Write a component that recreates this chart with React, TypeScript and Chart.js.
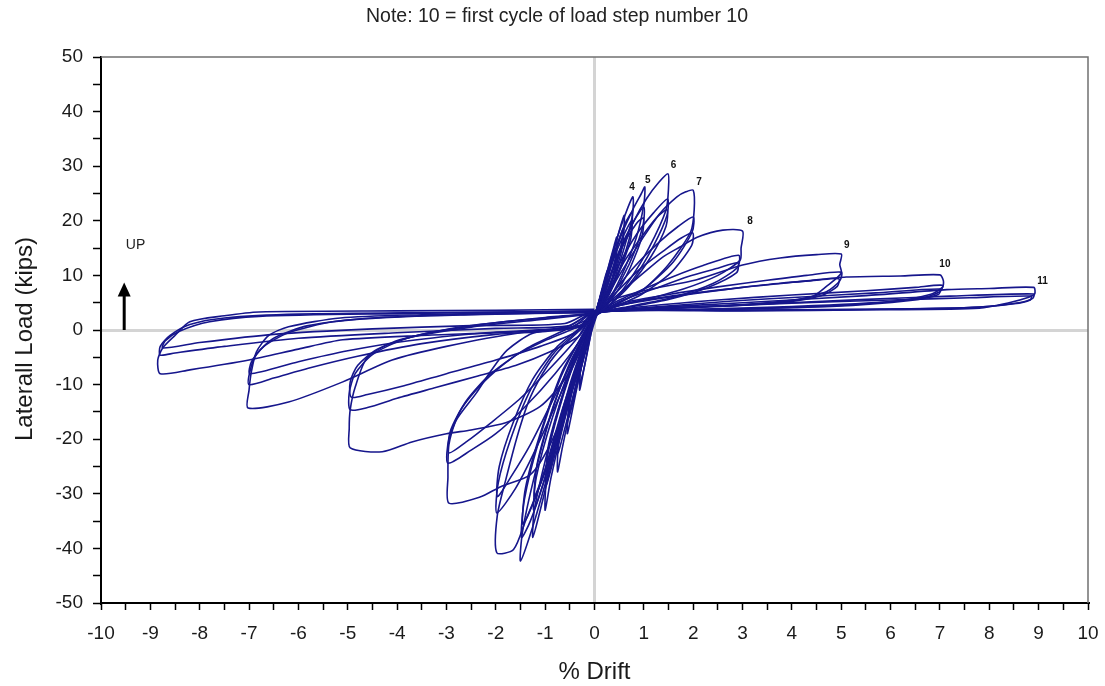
import React, { useEffect, useRef } from 'react';
import { Chart, registerables } from 'chart.js';
Chart.register(...registerables);

type Pt = [number, number];

// ---- Hysteresis cycles: [drift %, lateral load kips] ----
const step1Cycle1: Pt[] = [[0,2],[0.08,5],[0.18,8.5],[0.26,11],[0.25,8.5],[0.15,5],[0.04,2.5],[-0.08,-1],[-0.18,-5.5],[-0.3,-11],[-0.29,-8],[-0.18,-3],[-0.05,1.5],[0,2.5]];
const step1Cycle2: Pt[] = [[0,2.5],[0.1,5.5],[0.25,10],[0.24,8],[0.12,4.5],[0,2.5],[-0.1,-2],[-0.2,-6.5],[-0.3,-10],[-0.28,-7],[-0.12,-1.5],[0,2.5]];
const step2Cycle1: Pt[] = [[0,2.5],[0.1,5.5],[0.25,10.5],[0.4,15.5],[0.45,17],[0.44,14],[0.3,9],[0.12,4.5],[0,2.5],[-0.1,-1],[-0.25,-6],[-0.4,-12.5],[-0.55,-19],[-0.53,-15],[-0.38,-8],[-0.18,-2],[0,2.5]];
const step2Cycle2: Pt[] = [[0,2.5],[0.12,6],[0.3,11.5],[0.44,15],[0.43,12],[0.25,7],[0,3],[-0.15,-2.5],[-0.35,-10],[-0.52,-16],[-0.5,-12],[-0.3,-5],[0,2.5]];
const step3Cycle1: Pt[] = [[0,2.5],[0.1,5],[0.3,11.5],[0.48,17.5],[0.6,21],[0.59,18],[0.45,12],[0.25,6.5],[0.05,3],[-0.1,-0.5],[-0.3,-7],[-0.5,-15],[-0.65,-21.5],[-0.75,-26],[-0.73,-21],[-0.55,-13],[-0.3,-5],[-0.08,0.5],[0,2.5]];
const step3Cycle2: Pt[] = [[0,2.5],[0.15,6.5],[0.35,12.5],[0.58,18.5],[0.57,15.5],[0.4,10],[0.15,4.5],[0,2.5],[-0.15,-3],[-0.4,-11],[-0.6,-18],[-0.74,-22.5],[-0.7,-17.5],[-0.45,-9],[-0.15,-1],[0,2.5]];
const step4Cycle1: Pt[] = [[0,2.5],[0.1,5.5],[0.3,12],[0.5,18],[0.68,22.5],[0.78,24.4],[0.77,21],[0.6,15],[0.35,8],[0.1,4],[0,2.5],[-0.1,-0.5],[-0.35,-8],[-0.65,-18],[-0.88,-27],[-1.0,-33],[-0.98,-28],[-0.8,-20],[-0.5,-10],[-0.2,-2],[0,2.5]];
const step4Cycle2: Pt[] = [[0,2.5],[0.15,6.5],[0.4,14],[0.62,19.5],[0.76,21.5],[0.74,18],[0.5,11],[0.2,5],[0,2.5],[-0.15,-2],[-0.45,-11],[-0.75,-21],[-0.98,-28.5],[-0.95,-23],[-0.7,-14],[-0.35,-4.5],[0,2.5]];
const step4Cycle3: Pt[] = [[0,2.5],[0.18,7],[0.45,14.5],[0.75,20],[0.73,16.5],[0.45,9.5],[0.15,4],[0,2.5],[-0.2,-3.5],[-0.5,-12],[-0.8,-21.5],[-0.97,-26],[-0.93,-21],[-0.65,-12],[-0.3,-3],[0,2.5]];
const step5Cycle1: Pt[] = [[0,2.5],[0.1,5],[0.3,11],[0.55,17.5],[0.8,22.5],[0.95,25],[1.02,26.2],[1.0,23],[0.85,17],[0.55,10],[0.25,5],[0,2.5],[-0.1,-0.5],[-0.4,-9],[-0.8,-22],[-1.1,-33],[-1.25,-38],[-1.22,-33],[-1.0,-24],[-0.65,-12],[-0.3,-3],[0,2.5]];
const step5Cycle2: Pt[] = [[0,2.5],[0.2,7],[0.5,14.5],[0.8,20],[1.0,22.5],[0.98,19],[0.7,12],[0.3,5.5],[0,2.5],[-0.15,-2],[-0.55,-13],[-0.95,-25.5],[-1.23,-33],[-1.18,-27],[-0.85,-16],[-0.4,-5],[0,2.5]];
const step5Cycle3: Pt[] = [[0,2.5],[0.25,8],[0.55,15],[0.85,19.5],[0.99,20.5],[0.96,17],[0.65,10],[0.25,4.5],[0,2.5],[-0.2,-3],[-0.6,-14],[-1.0,-25.5],[-1.22,-30.5],[-1.15,-24],[-0.8,-13],[-0.35,-3.5],[0,2.5]];
const step6Cycle1: Pt[] = [[0,2.5],[0.1,4.5],[0.3,9.5],[0.55,15],[0.8,20],[1.05,24],[1.3,27],[1.49,28.6],[1.5,26],[1.45,22],[1.1,15],[0.7,9],[0.35,5],[0,2.5],[-0.1,-0.5],[-0.45,-10],[-0.9,-25],[-1.25,-36],[-1.5,-42.3],[-1.46,-37],[-1.25,-28],[-0.9,-16],[-0.5,-6],[-0.15,0],[0,2.5]];
const step6Cycle2: Pt[] = [[0,2.5],[0.2,6],[0.5,12],[0.85,17.5],[1.2,21.5],[1.48,24],[1.47,21],[1.2,15.5],[0.8,9.5],[0.35,5],[0,2.5],[-0.15,-2],[-0.6,-14],[-1.0,-27],[-1.3,-35],[-1.48,-38],[-1.42,-31],[-1.15,-21],[-0.7,-9],[-0.25,-1],[0,2.5]];
const step6Cycle3: Pt[] = [[0,2.5],[0.25,6.5],[0.6,12.5],[0.95,17],[1.25,20.5],[1.47,22],[1.45,19],[1.15,13.5],[0.7,8],[0.3,4.5],[0,2.5],[-0.2,-2.5],[-0.65,-14.5],[-1.05,-27],[-1.35,-34],[-1.46,-35.5],[-1.4,-29],[-1.1,-19],[-0.65,-7.5],[-0.2,-0.5],[0,2.5]];
const step7Cycle1: Pt[] = [[0,2.5],[0.15,4.5],[0.5,10],[0.99,17],[1.33,21.4],[1.67,24.4],[1.85,25.3],[2.0,25.6],[2.02,22],[1.95,18],[1.5,12],[1.0,7.5],[0.4,4.5],[0,2.5],[-0.2,-4],[-0.6,-15],[-1.0,-26],[-1.4,-35],[-1.64,-40.2],[-1.98,-40.8],[-1.97,-34],[-1.8,-27.5],[-1.55,-19],[-1.3,-12.3],[-0.95,-6.5],[-0.64,-3],[-0.23,0.5],[0,2.5]];
const step7Cycle2: Pt[] = [[0,2.5],[0.3,6],[0.8,11.5],[1.3,16],[1.7,19],[2.0,20.7],[1.98,18],[1.6,12.5],[1.0,7.5],[0.4,4.5],[0,2.5],[-0.25,-3],[-0.7,-12],[-1.2,-22],[-1.6,-29],[-1.98,-33.5],[-1.95,-28],[-1.7,-20],[-1.3,-11],[-0.8,-4],[-0.25,0.5],[0,2.5]];
const step7Cycle3: Pt[] = [[0,2.5],[0.35,6],[0.9,11],[1.4,14.5],[1.75,16.8],[1.99,17.8],[1.97,15.5],[1.55,10.5],[0.95,6.5],[0.35,4],[0,2.5],[-0.3,-3],[-0.8,-12],[-1.3,-21],[-1.7,-27],[-1.97,-30.5],[-1.93,-25],[-1.65,-17],[-1.25,-9],[-0.75,-3],[-0.2,1],[0,2.5]];
const step8Cycle1: Pt[] = [[0,2.5],[0.15,4],[0.58,7.3],[1.0,10.5],[1.39,13.4],[1.73,15.2],[2.08,17],[2.6,18.3],[3.0,18.1],[2.97,15],[2.95,12.8],[2.5,10],[1.8,7.5],[1.0,5.5],[0.4,4.2],[0,2.8],[-0.15,-2],[-0.5,-12],[-0.9,-21],[-1.3,-26.5],[-1.9,-28.7],[-2.32,-30.6],[-2.95,-31.7],[-2.97,-27],[-2.95,-21],[-2.8,-16.5],[-2.4,-11.6],[-2.1,-7.5],[-1.77,-3.7],[-1.25,-0.6],[-0.3,0.8],[0,2.5]];
const step8Cycle2: Pt[] = [[0,2.5],[0.4,5],[1.0,7.5],[1.6,9.8],[2.2,11.8],[2.92,13.7],[2.9,11.5],[2.4,8.5],[1.6,6],[0.7,4.3],[0,2.8],[-0.3,-2],[-0.8,-8],[-1.4,-14],[-2.0,-19],[-2.5,-22],[-2.97,-24.4],[-2.95,-20],[-2.7,-14.5],[-2.3,-10],[-1.65,-5],[-0.97,-1.8],[-0.15,1.3],[0,2.5]];
const step8Cycle3: Pt[] = [[0,2.5],[0.5,5.2],[1.2,7.5],[1.9,9.8],[2.5,11.3],[2.9,12.3],[2.88,10.5],[2.3,7.8],[1.5,5.6],[0.6,4],[0,2.8],[-0.35,-1.5],[-0.9,-7],[-1.5,-12.5],[-2.1,-17],[-2.6,-20.5],[-2.95,-22.5],[-2.92,-18.5],[-2.6,-13],[-2.1,-8],[-1.4,-3.5],[-0.6,0],[0,2.5]];
const step9Cycle1: Pt[] = [[0,2.8],[0.37,5.5],[1.0,7.2],[2.07,9.2],[3.0,11.9],[3.76,13.2],[4.5,13.8],[5.0,13.9],[4.97,12],[5.0,10.4],[4.7,8],[4.4,6.1],[3.5,5.0],[2.0,4.2],[0.5,3.8],[0,3],[-0.2,-2],[-0.6,-9],[-1.1,-14],[-1.8,-17],[-2.5,-18.3],[-3.0,-19],[-3.7,-20.5],[-4.3,-22.3],[-4.95,-21.6],[-4.97,-18],[-4.95,-14.6],[-4.85,-10.5],[-4.6,-5],[-3.95,-1.8],[-2.45,0.6],[-1.0,2],[0,3]];
const step9Cycle2: Pt[] = [[0,3],[0.6,5],[1.5,6.5],[2.5,7.9],[3.5,9.1],[4.3,10],[5.0,10.6],[4.97,9],[4.7,7],[4.1,5.5],[3,4.6],[1.5,4],[0,3],[-0.3,-1],[-0.9,-4],[-1.6,-6.5],[-2.4,-8.5],[-3.2,-10.5],[-4.0,-12.5],[-4.6,-14.2],[-4.95,-14.6],[-4.97,-11.5],[-4.85,-8],[-4.5,-4.5],[-3.8,-1.5],[-2.5,0.8],[-1,2.2],[0,3]];
const step9Cycle3: Pt[] = [[0,3],[0.7,5],[1.7,6.4],[2.8,7.6],[3.8,8.6],[4.5,9.1],[4.95,9.4],[4.92,8],[4.6,6.3],[3.9,5.1],[2.7,4.4],[1.2,3.8],[0,3],[-0.4,-0.5],[-1.1,-3],[-2.0,-5.5],[-3.0,-8],[-3.9,-10.3],[-4.6,-11.8],[-4.93,-12.3],[-4.95,-9.5],[-4.8,-6.5],[-4.4,-3.5],[-3.6,-1],[-2.3,1],[-1,2.3],[0,3]];
const step10Cycle1: Pt[] = [[0,3],[0.5,4.5],[1.5,6],[3.0,7.8],[4.3,9],[5.1,9.7],[6.2,9.9],[7.0,10.1],[7.07,9],[7.05,7.8],[6.8,6.5],[6.0,5.2],[4.0,4.3],[2.0,3.8],[0,3.2],[-0.3,0.5],[-1.5,-0.5],[-3.0,-3],[-4.1,-5.5],[-5.1,-9.5],[-6.2,-13.2],[-7.02,-14.3],[-7.0,-11],[-6.95,-7.5],[-6.85,-4],[-6.6,-1],[-6.2,0.6],[-5.15,2.2],[-3.5,2.8],[-1.5,3.2],[0,3.3]];
const step10Cycle2: Pt[] = [[0,3.2],[1,4.3],[2.5,5.5],[4,6.4],[5.5,7.2],[6.5,7.8],[7.05,8.2],[7.0,7],[6.6,5.8],[5.0,4.5],[2.5,3.8],[0,3.2],[-0.5,0.3],[-2,-0.8],[-3.5,-2.5],[-4.8,-4.8],[-5.8,-7],[-6.5,-8.8],[-7.0,-10],[-6.98,-7.5],[-6.85,-4.5],[-6.5,-1.5],[-5.8,0.8],[-4.5,2.2],[-2.5,2.8],[0,3.2]];
const step10Cycle3: Pt[] = [[0,3.2],[1.2,4.2],[2.8,5.3],[4.3,6.1],[5.7,6.8],[7.0,7.5],[6.97,6.5],[6.4,5.4],[4.8,4.3],[2.3,3.7],[0,3.2],[-0.6,0.5],[-2.2,-0.5],[-3.8,-2],[-5.0,-3.8],[-6.0,-5.8],[-6.98,-8],[-6.95,-5.8],[-6.7,-3],[-6.2,-0.5],[-5.3,1.5],[-3.8,2.5],[-1.8,3],[0,3.2]];
const step11Cycle1: Pt[] = [[0,3.3],[1,4],[3,5],[5.5,6.3],[7.14,7.4],[8.0,7.6],[8.9,7.8],[8.92,6.6],[8.8,6.0],[8.4,5],[7.8,4],[5.8,3.7],[3,3.5],[0,3.3],[-0.3,0.8],[-1.5,-0.3],[-3.5,-1],[-5.1,-1.8],[-6.0,-3.5],[-7.0,-5.5],[-8.2,-7.3],[-8.8,-8.0],[-8.85,-5.5],[-8.75,-3.3],[-8.5,-1],[-8.2,1.5],[-7.5,2.6],[-6.8,3.3],[-4,3.5],[-2,3.6],[0,3.8]];
const step11Cycle2: Pt[] = [[0,3.3],[1.5,4],[3.5,4.8],[5.5,5.6],[7.2,6.2],[8.9,6.6],[8.88,5.8],[8.6,5],[7.8,4.2],[6,3.8],[3,3.6],[0,3.4],[-0.5,0.8],[-2,0.3],[-4,-0.5],[-6,-1.5],[-7.5,-3],[-8.5,-4.2],[-8.8,-4.6],[-8.8,-3],[-8.6,-1],[-8.2,1],[-7.5,2.2],[-6,2.9],[-3,3.2],[0,3.5]];
const step11Cycle3: Pt[] = [[0,3.4],[2,4.2],[4,4.9],[6,5.5],[7.6,5.9],[8.85,6.2],[8.83,5.5],[8.5,4.8],[7.6,4.1],[5.5,3.8],[2.5,3.6],[0,3.5],[-0.6,1.2],[-2.5,0.8],[-4.5,0.2],[-6.5,-0.8],[-8,-2.3],[-8.75,-3.3],[-8.7,-2],[-8.4,-0.2],[-7.8,1.5],[-6.8,2.5],[-4,3],[-1.5,3.3],[0,3.5]];

const allCycles: Pt[][] = [
  step1Cycle1, step1Cycle2, step2Cycle1, step2Cycle2, step3Cycle1, step3Cycle2,
  step4Cycle1, step4Cycle2, step4Cycle3, step5Cycle1, step5Cycle2, step5Cycle3,
  step6Cycle1, step6Cycle2, step6Cycle3, step7Cycle1, step7Cycle2, step7Cycle3,
  step8Cycle1, step8Cycle2, step8Cycle3, step9Cycle1, step9Cycle2, step9Cycle3,
  step10Cycle1, step10Cycle2, step10Cycle3, step11Cycle1, step11Cycle2, step11Cycle3,
];

// First-cycle labels
const peakLabels = ['4', '5', '6', '7', '8', '9', '10', '11'];
const peakLabelDrift = [0.76, 1.08, 1.6, 2.12, 3.15, 5.11, 7.1, 9.08];
const peakLabelLoad = [26.2, 27.5, 30.2, 27.1, 20.0, 15.5, 12.0, 8.9];

const noteText = 'Note: 10 = first cycle of load step number 10';
const xTitle = '% Drift';
const yTitle = 'Laterall Load (kips)';
const upText = 'UP';
const upArrowDrift = -9.53;
const upArrowFrom = 0;
const upArrowTo = 8.7;
const upLabelDrift = -9.3;
const upLabelLoad = 15.6;

const LINE = '#16168c';
const FONT = "'Liberation Sans', Arial, sans-serif";

const overlayPlugin = {
  id: 'overlay',
  afterDraw(chart: any) {
    const { ctx, chartArea, scales } = chart;
    const x = scales.x, y = scales.y;
    ctx.save();
    // frame top & right
    ctx.strokeStyle = '#707070';
    ctx.lineWidth = 1.5;
    ctx.beginPath();
    ctx.moveTo(chartArea.left, chartArea.top);
    ctx.lineTo(chartArea.right, chartArea.top);
    ctx.lineTo(chartArea.right, chartArea.bottom);
    ctx.stroke();
    // note
    ctx.fillStyle = '#222';
    ctx.font = `19.5px ${FONT}`;
    ctx.textAlign = 'center';
    ctx.textBaseline = 'middle';
    ctx.fillText(noteText, 557, 17);
    // axis titles
    ctx.font = `24px ${FONT}`;
    ctx.fillStyle = '#1a1a1a';
    ctx.fillText(xTitle, (chartArea.left + chartArea.right) / 2, 672);
    ctx.save();
    ctx.translate(25, 339);
    ctx.rotate(-Math.PI / 2);
    ctx.fillText(yTitle, 0, 0);
    ctx.restore();
    // peak labels
    ctx.font = `bold 10px ${FONT}`;
    ctx.fillStyle = '#111';
    peakLabels.forEach((t, i) => {
      ctx.fillText(t, x.getPixelForValue(peakLabelDrift[i]), y.getPixelForValue(peakLabelLoad[i]));
    });
    // UP label
    ctx.font = `14px ${FONT}`;
    ctx.fillStyle = '#222';
    ctx.fillText(upText, x.getPixelForValue(upLabelDrift), y.getPixelForValue(upLabelLoad));
    // arrow
    const ax = x.getPixelForValue(upArrowDrift);
    const ay0 = y.getPixelForValue(upArrowFrom);
    const ay1 = y.getPixelForValue(upArrowTo);
    ctx.strokeStyle = '#000';
    ctx.lineWidth = 3;
    ctx.beginPath();
    ctx.moveTo(ax, ay0);
    ctx.lineTo(ax, ay1 + 10);
    ctx.stroke();
    ctx.fillStyle = '#000';
    ctx.beginPath();
    ctx.moveTo(ax, ay1);
    ctx.lineTo(ax - 6.5, ay1 + 14);
    ctx.lineTo(ax + 6.5, ay1 + 14);
    ctx.closePath();
    ctx.fill();
    ctx.restore();
  },
};

export default function App() {
  const ref = useRef<HTMLCanvasElement | null>(null);
  useEffect(() => {
    if (!ref.current) return;
    const datasets = allCycles.map((c) => ({
      data: c.map(([dx, ly]) => ({ x: dx, y: ly })),
      showLine: true,
      borderColor: LINE,
      borderWidth: 1.6,
      pointRadius: 0,
      fill: false,
      tension: 0.25,
    }));
    const zeroGrid = (ctx: any) => (ctx.tick && ctx.tick.value === 0 ? '#d4d4d4' : 'rgba(0,0,0,0)');
    const chart = new Chart(ref.current, {
      type: 'scatter',
      data: { datasets },
      plugins: [overlayPlugin],
      options: {
        responsive: false,
        animation: false,
        layout: { padding: { top: 57, right: 17, left: 0, bottom: 0 } },
        plugins: { legend: { display: false }, tooltip: { enabled: false } },
        scales: {
          x: {
            type: 'linear',
            min: -10,
            max: 10,
            afterFit: (s: any) => { s.height = 83; s.paddingLeft = 0; s.paddingRight = 0; },
            ticks: {
              stepSize: 0.5,
              autoSkip: false,
              maxRotation: 0,
              padding: 12,
              color: '#1a1a1a',
              font: { family: FONT, size: 19 },
              callback: (v: any) => (Number.isInteger(Number(v)) ? String(v) : ''),
            },
            grid: { color: zeroGrid, lineWidth: 3, tickColor: '#000', tickLength: 7, tickWidth: 1.5 },
            border: { color: '#000', width: 2 },
          },
          y: {
            type: 'linear',
            min: -50,
            max: 50,
            afterFit: (s: any) => { s.width = 101; s.paddingTop = 0; s.paddingBottom = 0; },
            ticks: {
              stepSize: 5,
              autoSkip: false,
              padding: 10,
              color: '#1a1a1a',
              font: { family: FONT, size: 19 },
              callback: (v: any) => (Number(v) % 10 === 0 ? String(v) : ''),
            },
            grid: { color: zeroGrid, lineWidth: 3, tickColor: '#000', tickLength: 8, tickWidth: 1.5 },
            border: { color: '#000', width: 2 },
          },
        },
      },
    });
    return () => chart.destroy();
  }, []);
  return (
    <div style={{ position: 'fixed', left: 0, top: 0, width: 1105, height: 686, background: '#fff' }}>
      <canvas ref={ref} width={1105} height={686} style={{ display: 'block' }} />
    </div>
  );
}
